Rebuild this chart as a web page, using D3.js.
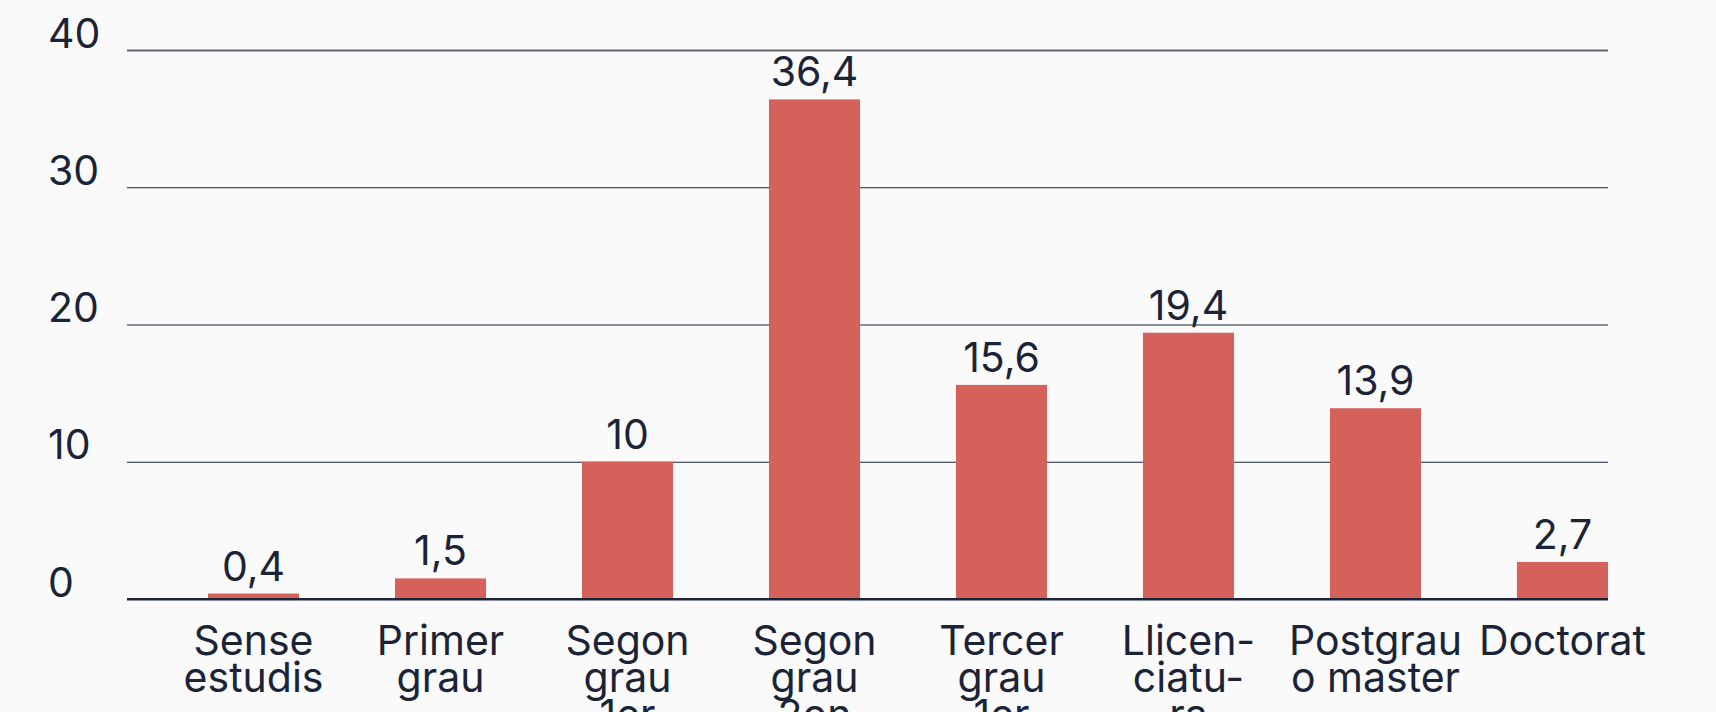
<!DOCTYPE html>
<html lang="ca">
<head>
<meta charset="utf-8">
<script src="https://cdn.jsdelivr.net/npm/d3@7"></script>
<style>
  html, body { margin: 0; padding: 0; background: #fafafa; }
  svg { display: block; font-family: Inter, "Noto Sans", sans-serif; }
</style>
</head>
<body>
<svg id="chart" width="1716" height="712"></svg>
<script>
// Nivell d'estudis (%)
const categories = [
  "Sense estudis", "Primer grau", "Segon grau 1er", "Segon grau 2on",
  "Tercer grau 1er", "Llicenciatura", "Postgrau o master", "Doctorat"
];
// Etiquetes de l'eix, partides en línies
const categoryLines = [
  ["Sense", "estudis"],
  ["Primer", "grau"],
  ["Segon", "grau", "1er"],
  ["Segon", "grau", "2on"],
  ["Tercer", "grau", "1er"],
  ["Llicen-", "ciatu-", "ra"],
  ["Postgrau", "o master"],
  ["Doctorat"]
];
const values = [0.4, 1.5, 10, 36.4, 15.6, 19.4, 13.9, 2.7];
const yTicks = [0, 10, 20, 30, 40];

const W = 1716, H = 712;
const plot = { left: 127, right: 1608, top: 50, bottom: 599 };
const barsLeft = 208;

const ink = "#1b2336";
const barColor = "#d4615a";
const fontSize = 41;

const ca = d3.formatLocale({ decimal: ",", thousands: ".", grouping: [3], currency: ["", " €"] });
const fmt = ca.format(".3~g");

const svg = d3.select("#chart");
svg.append("rect").attr("width", W).attr("height", H).attr("fill", "#fafafa");

const y = d3.scaleLinear().domain([0, 40]).range([plot.bottom, plot.top]);
const x = d3.scaleBand()
  .domain(categories)
  .range([barsLeft, plot.right])
  .paddingInner(0.513)
  .paddingOuter(0);

// Graella horitzontal i etiquetes de l'eix Y
const yAxis = svg.append("g")
  .attr("transform", `translate(${plot.left},0)`)
  .call(d3.axisLeft(y).tickValues(yTicks).tickSize(-(plot.right - plot.left)).tickFormat(fmt));
yAxis.select(".domain").remove();
yAxis.selectAll(".tick line")
  .attr("stroke", d => d === 40 ? "#62666f" : ink)
  .attr("stroke-width", d => d === 40 ? 2 : (d === 0 ? 2 : 1));
yAxis.selectAll(".tick text")
  .attr("x", 48 - plot.left)
  .attr("dy", -3)
  .attr("text-anchor", "start")
  .attr("fill", ink)
  .style("font-size", fontSize + "px")
  .style("font-family", "Inter, 'Noto Sans', sans-serif");

// Barres
svg.append("g").selectAll("rect")
  .data(values)
  .join("rect")
  .attr("x", (d, i) => x(categories[i]))
  .attr("width", x.bandwidth())
  .attr("y", d => y(d))
  .attr("height", d => y(0) - y(d))
  .attr("fill", barColor);

// Línia base
svg.append("line")
  .attr("x1", plot.left).attr("x2", plot.right)
  .attr("y1", y(0)).attr("y2", y(0))
  .attr("stroke", ink).attr("stroke-width", 2);

// Valors sobre les barres
svg.append("g").selectAll("text")
  .data(values)
  .join("text")
  .attr("x", (d, i) => x(categories[i]) + x.bandwidth() / 2)
  .attr("y", d => y(d) - 13)
  .attr("text-anchor", "middle")
  .attr("fill", ink)
  .style("font-size", fontSize + "px")
  .text(d => fmt(d));

// Etiquetes de categoria
const xAxis = svg.append("g")
  .attr("transform", `translate(0,${y(0)})`)
  .call(d3.axisBottom(x).tickSize(0));
xAxis.select(".domain").remove();
xAxis.selectAll(".tick text").remove();
xAxis.selectAll(".tick line").remove();
xAxis.selectAll(".tick").each(function (d, i) {
  const t = d3.select(this).append("text")
    .attr("text-anchor", "middle")
    .attr("fill", ink)
    .style("font-size", fontSize + "px")
    .style("font-family", "Inter, 'Noto Sans', sans-serif");
  categoryLines[i].forEach((line, k) => {
    t.append("tspan")
      .attr("x", 0)
      .attr("y", 56 + k * 37)
      .text(line);
  });
});
</script>
</body>
</html>
